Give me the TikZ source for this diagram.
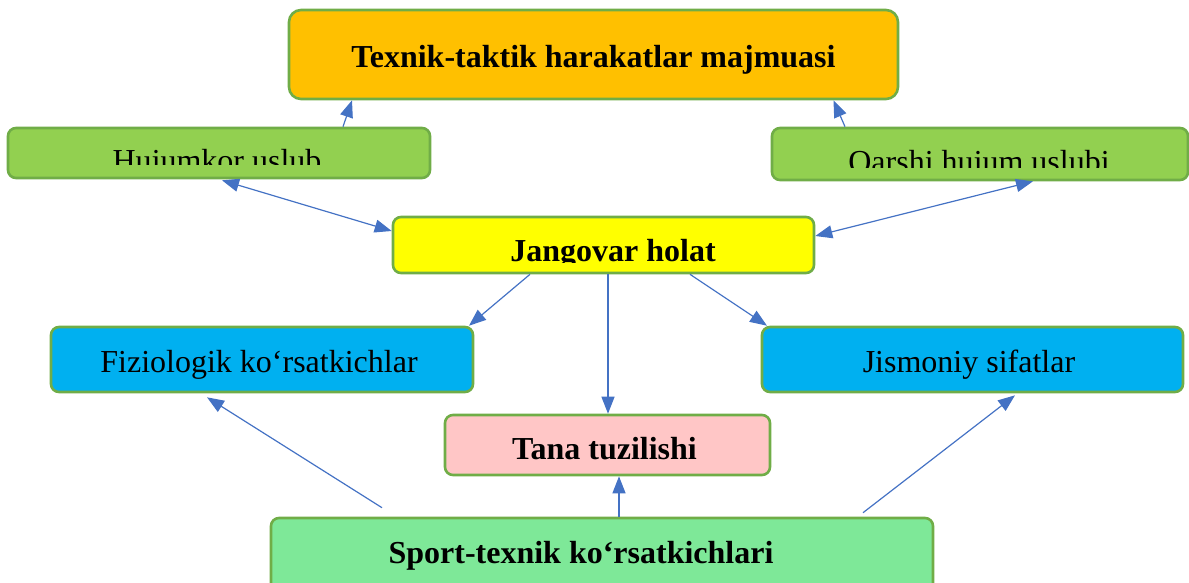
\documentclass[tikz,border=0pt]{standalone}
\usepackage{fontspec}
\setmainfont{Liberation Serif}
\usetikzlibrary{arrows.meta}
\definecolor{borderg}{HTML}{70AD47}
\definecolor{arrowb}{HTML}{4472C4}
\definecolor{orangef}{HTML}{FFC000}
\definecolor{greenf}{HTML}{92D050}
\definecolor{yellowf}{HTML}{FFFF00}
\definecolor{bluef}{HTML}{00B0F0}
\definecolor{pinkf}{HTML}{FFC6C6}
\definecolor{lgreenf}{HTML}{7EE898}
\tikzset{
  box/.style={draw=borderg, line width=2.6pt, rounded corners=8pt, inner sep=0pt},
  lbl/.style={anchor=base, inner sep=0pt, font=\fontsize{32}{38}\selectfont},
  blbl/.style={lbl, font=\fontsize{32}{38}\selectfont\bfseries},
  conn/.style={draw=arrowb, line width=1.2pt, -{Triangle[length=17pt,width=13pt]}},
  dconn/.style={draw=arrowb, line width=1.2pt, {Triangle[length=17pt,width=13pt]}-{Triangle[length=17pt,width=13pt]}}
}
\begin{document}
\begin{tikzpicture}[x=1pt,y=-1pt]
\useasboundingbox (0,0) rectangle (1189,582);
% boxes
\node[box, rounded corners=12pt, fill=orangef, minimum width=609pt, minimum height=89pt] (top) at (593.5,54.5) {};
\node[blbl] (ttop) at (593.5,67) {Texnik-taktik harakatlar majmuasi};

\node[box, fill=greenf, minimum width=422pt, minimum height=50pt] (huj) at (219,153) {};
\begin{scope}
\clip (0,128) rectangle (440,164);
\node[lbl] (thuj) at (217,171) {Hujumkor uslub};
\end{scope}

\node[box, fill=greenf, minimum width=416pt, minimum height=52pt] (qar) at (980,154) {};
\begin{scope}
\clip (760,128) rectangle (1189,167);
\node[lbl] (tqar) at (979,172) {Qarshi hujum uslubi};
\end{scope}

\node[box, fill=yellowf, minimum width=421pt, minimum height=56pt] (jan) at (603.5,245) {};
\begin{scope}
\clip (393,217) rectangle (814,262);
\node[blbl] (tjan) at (613,261) {Jangovar holat};
\end{scope}

\node[box, fill=bluef, minimum width=422pt, minimum height=65pt] (fiz) at (262,359.5) {};
\node[lbl] (tfiz) at (259,372) {Fiziologik ko‘rsatkichlar};

\node[box, fill=bluef, minimum width=421pt, minimum height=65pt] (jis) at (972.5,359.5) {};
\node[lbl] (tjis) at (969,372) {Jismoniy sifatlar};

\node[box, fill=pinkf, minimum width=325pt, minimum height=60pt] (tana) at (607.5,445) {};
\node[blbl] (ttana) at (604.5,459) {Tana tuzilishi};

\node[box, fill=lgreenf, minimum width=662pt, minimum height=74pt] (sport) at (602,555) {};
\node[blbl] (tsport) at (581,563) {Sport-texnik ko‘rsatkichlari};

% connectors
\draw[conn] ([xshift=124pt]huj.north) -- ([xshift=-241.5pt]top.south);
\draw[conn] ([xshift=-135pt]qar.north) -- ([xshift=240pt]top.south);
\draw[dconn] ([yshift=14pt]jan.west) -- ([xshift=3pt,yshift=-1pt]huj.south);
\draw[dconn] ([yshift=9pt]jan.east) -- ([xshift=53pt]qar.south);
\draw[conn] ([xshift=-73.5pt]jan.south) -- ([xshift=207pt]fiz.north);
\draw[conn] ([xshift=4.5pt]jan.south) -- ([xshift=0.5pt]tana.north);
\draw[conn] ([xshift=86.5pt]jan.south) -- ([xshift=-205.5pt]jis.north);
\draw[conn] ([xshift=-220pt,yshift=9pt]sport.north) -- ([xshift=-55pt,yshift=-4pt]fiz.south);
\draw[conn] ([xshift=17pt]sport.north) -- ([xshift=11.5pt]tana.south);
\draw[conn] ([xshift=261pt,yshift=4pt]sport.north) -- ([xshift=42.5pt,yshift=-2pt]jis.south);
\end{tikzpicture}
\end{document}
